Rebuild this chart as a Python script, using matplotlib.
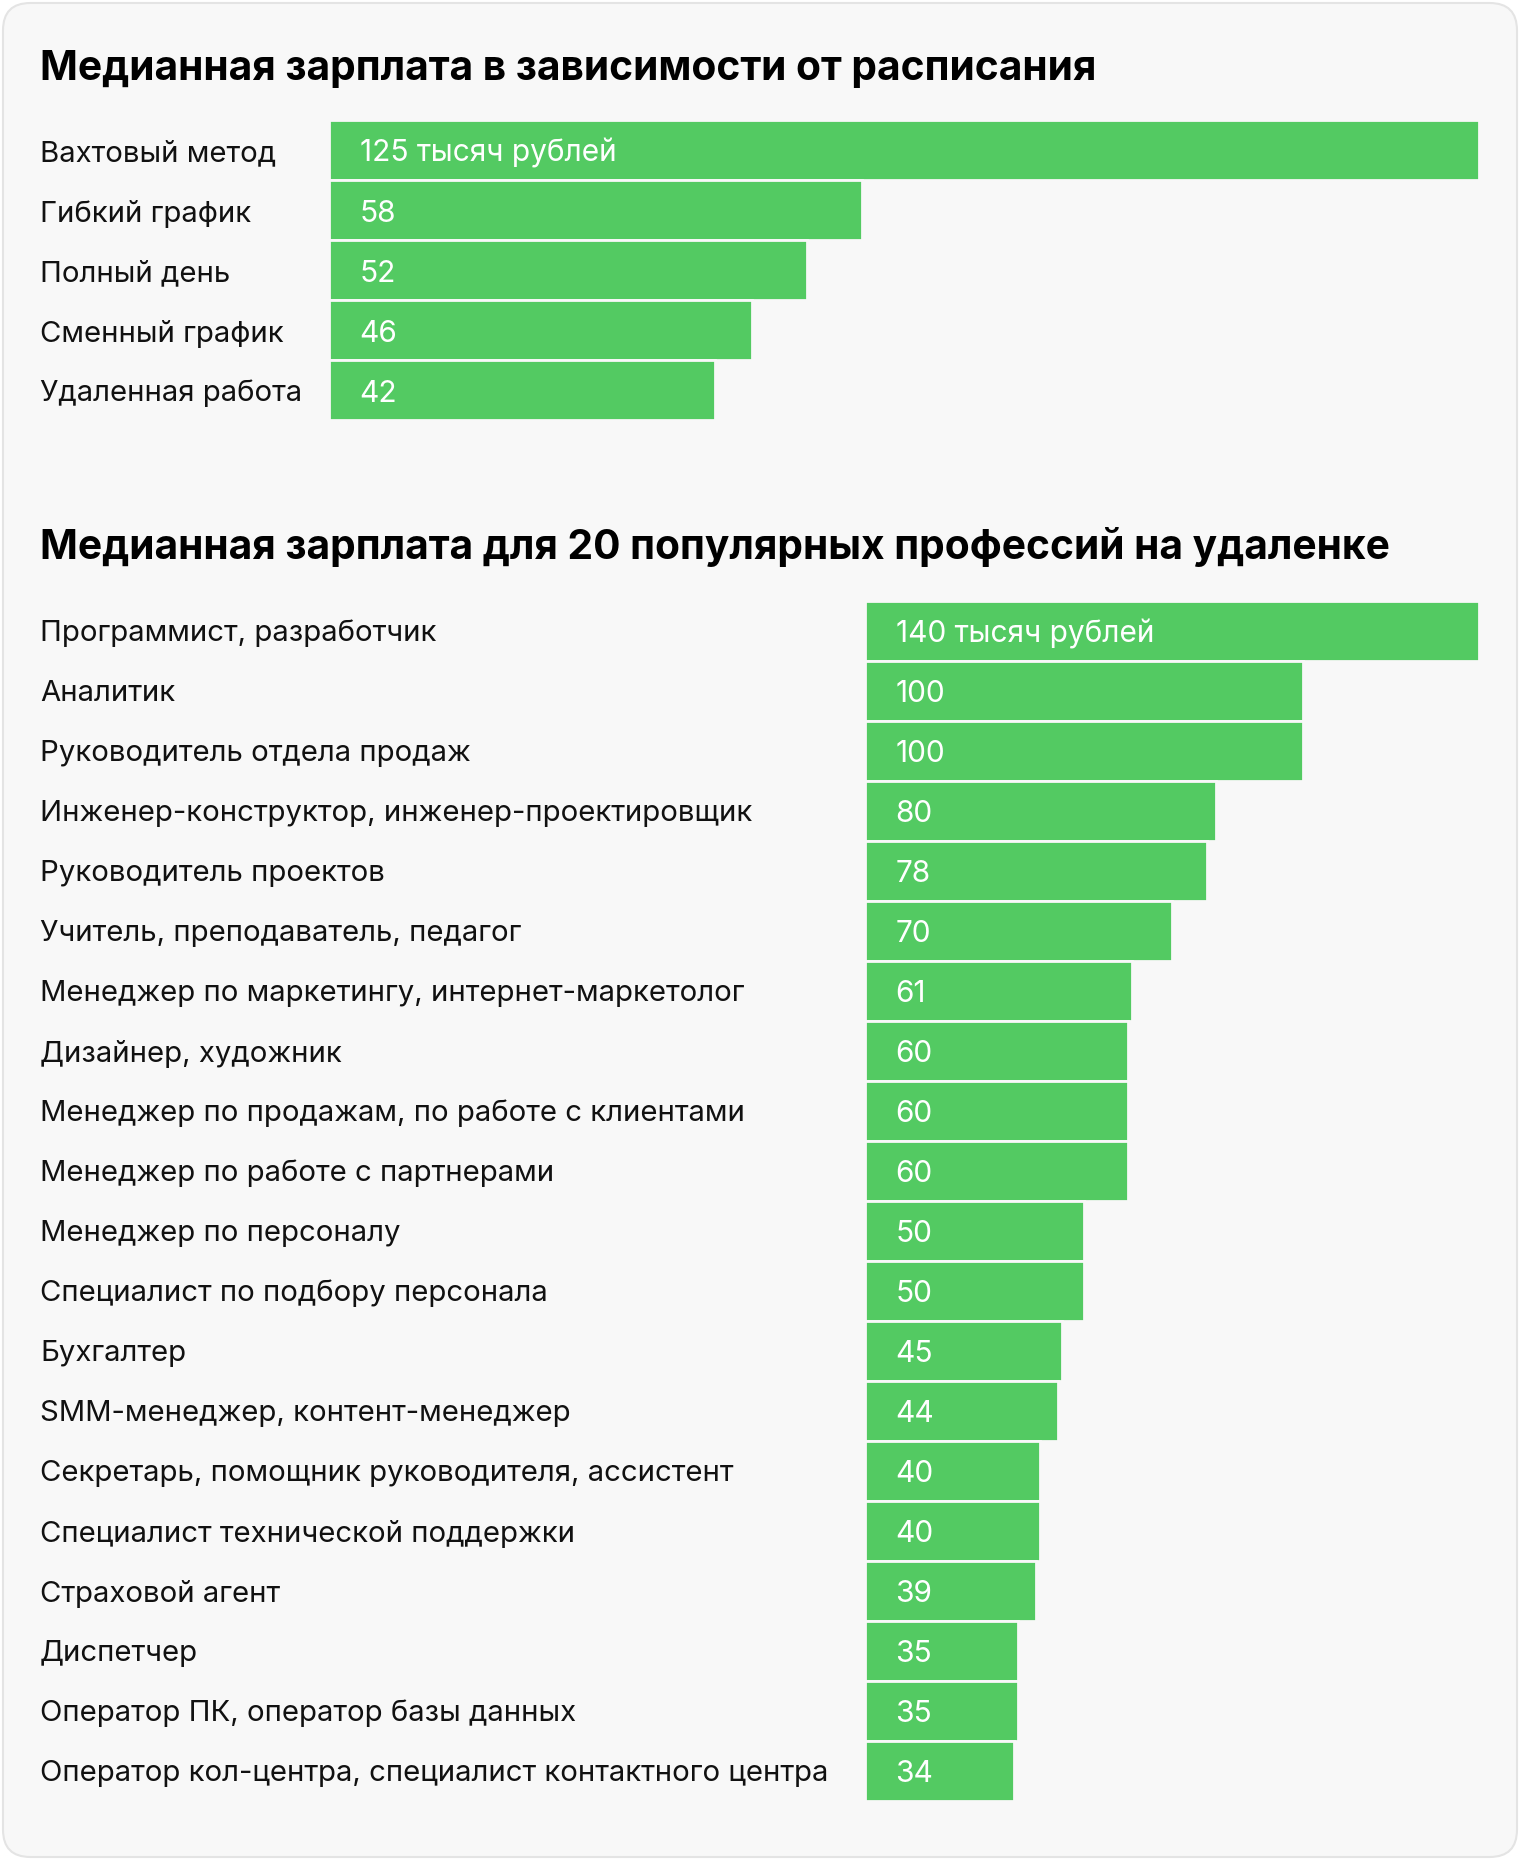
import matplotlib.pyplot as plt
from matplotlib.patches import FancyBboxPatch
from matplotlib.transforms import blended_transform_factory

plt.rcParams['font.family'] = ['Inter', 'DejaVu Sans']

# Data
title_top = "Медианная зарплата в зависимости от расписания"
schedules = ["Вахтовый метод", "Гибкий график", "Полный день", "Сменный график", "Удаленная работа"]
schedule_pay = [125, 58, 52, 46, 42]

title_bottom = "Медианная зарплата для 20 популярных профессий на удаленке"
professions = [
    "Программист, разработчик",
    "Аналитик",
    "Руководитель отдела продаж",
    "Инженер-конструктор, инженер-проектировщик",
    "Руководитель проектов",
    "Учитель, преподаватель, педагог",
    "Менеджер по маркетингу, интернет-маркетолог",
    "Дизайнер, художник",
    "Менеджер по продажам, по работе с клиентами",
    "Менеджер по работе с партнерами",
    "Менеджер по персоналу",
    "Специалист по подбору персонала",
    "Бухгалтер",
    "SMM-менеджер, контент-менеджер",
    "Секретарь, помощник руководителя, ассистент",
    "Специалист технической поддержки",
    "Страховой агент",
    "Диспетчер",
    "Оператор ПК, оператор базы данных",
    "Оператор кол-центра, специалист контактного центра",
]
profession_pay = [140, 100, 100, 80, 78, 70, 61, 60, 60, 60, 50, 50, 45, 44, 40, 40, 39, 35, 35, 34]

GREEN = "#53ca62"
BG = "#f8f8f8"
W, H = 1520, 1860

fig = plt.figure(figsize=(W / 100, H / 100), dpi=100)
fig.patch.set_facecolor("white")

# card background
card = FancyBboxPatch((3 / W, 3 / H), (W - 6) / W, (H - 6) / H,
                      boxstyle="round,pad=0,rounding_size=0.018",
                      transform=fig.transFigure, facecolor=BG,
                      edgecolor="#e4e4e4", linewidth=1.5,
                      mutation_aspect=W / H, zorder=-10)
fig.patches.append(card)


def px_axes(left, top, right, bottom):
    return fig.add_axes([left / W, 1 - bottom / H, (right - left) / W, (bottom - top) / H])


def draw_block(ax, labels, values, xmax, first_suffix):
    n = len(labels)
    ax.barh(range(n), values, height=1.0, color=GREEN, edgecolor=BG, linewidth=2)
    ax.set_xlim(0, xmax)
    ax.set_ylim(n - 0.5, -0.5)
    ax.axis("off")
    tr = blended_transform_factory(fig.transFigure, ax.transData)
    for i, (lab, v) in enumerate(zip(labels, values)):
        ax.annotate(lab, xy=(40 / W, i), xycoords=tr, xytext=(0, -3),
                    textcoords="offset pixels", ha="left", va="center",
                    fontsize=21.1, color="#111111", annotation_clip=False)
        txt = f"{v}{first_suffix}" if i == 0 else f"{v}"
        ax.annotate(txt, xy=(0, i), xytext=(31, -3), textcoords="offset pixels",
                    ha="left", va="center", fontsize=21.5, color="white")


ax1 = px_axes(328.5, 120.5, 1479, 420.5)
draw_block(ax1, schedules, schedule_pay, 125, " тысяч рублей")

ax2 = px_axes(864.5, 600.5, 1479, 1800.5)
draw_block(ax2, professions, profession_pay, 140, " тысяч рублей")

fig.text(40 / W, 1 - 69 / H, title_top, ha="left", va="center",
         fontsize=29.3, fontweight="bold", color="#000000")
fig.text(40 / W, 1 - 547 / H, title_bottom, ha="left", va="center",
         fontsize=29.3, fontweight="bold", color="#000000")

fig.savefig("out.png", dpi=100, facecolor=fig.get_facecolor())
